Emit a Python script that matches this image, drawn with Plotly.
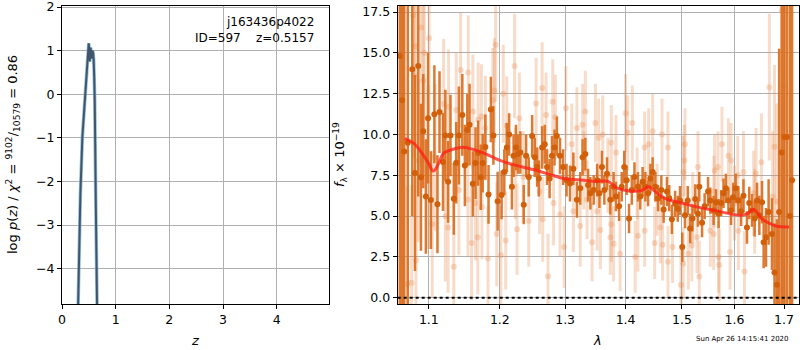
import plotly.graph_objects as go
import numpy as np

# ---------------- left panel: log p(z) ----------------
z_grid = [0.300, 0.310, 0.320, 0.322, 0.343, 0.380, 0.405, 0.455, 0.498, 0.507, 0.517, 0.527, 0.535,
          0.548, 0.558, 0.567, 0.580, 0.590, 0.600, 0.610, 0.629, 0.653]
log_pz = [-4.85, -4.0, -3.40, -3.30, -2.27, -0.97, -0.51, 0.40, 1.17, 1.05, 0.75, 1.0, 1.07,
          0.82, 0.95, 1.00, 0.95, 0.80, 0.40, -0.13, -2.42, -4.85]

# ---------------- right panel: spectrum ----------------
dark_lam = [1.0616, 1.0646, 1.0673, 1.0720, 1.0779, 1.0815, 1.0858, 1.0894, 1.0925, 1.0960,
            1.0990, 1.1028, 1.1075, 1.1117, 1.1145, 1.1193, 1.1225, 1.1263, 1.1296, 1.1342,
            1.1376, 1.1413, 1.1461, 1.1497, 1.1531, 1.1563, 1.1610, 1.1648, 1.1686, 1.1723,
            1.1751, 1.1789, 1.1835, 1.1869, 1.1906, 1.1968,
            1.2026, 1.2066, 1.2103, 1.2138, 1.2179, 1.2204, 1.2240, 1.2271, 1.2306, 1.2357,
            1.2393, 1.2433, 1.2485, 1.2525, 1.2562, 1.2587, 1.2639, 1.2679, 1.2715, 1.2755,
            1.2792, 1.2832, 1.2869, 1.2919, 1.2969, 1.3023, 1.3078, 1.3132, 1.3189, 1.3243,
            1.3281, 1.3326, 1.3371, 1.3409, 1.3463, 1.3520, 1.3558,
            1.3600, 1.3640, 1.3685, 1.3740, 1.3795, 1.3835, 1.3889, 1.3934, 1.3977, 1.4018,
            1.4059, 1.4107, 1.4153, 1.4213, 1.4254, 1.4295, 1.4343, 1.4391, 1.4432, 1.4472,
            1.4520, 1.4568, 1.4627, 1.4668, 1.4728, 1.4769, 1.4817, 1.4876, 1.4924, 1.4965,
            1.5006, 1.5057, 1.5108, 1.5152, 1.5196, 1.5247, 1.5298,
            1.5323, 1.5375, 1.5424, 1.5489, 1.5532, 1.5595, 1.5641, 1.5690, 1.5741, 1.5785,
            1.5831, 1.5880, 1.5932, 1.5975, 1.6022, 1.6075, 1.6130, 1.6176, 1.6245, 1.6291,
            1.6346, 1.6399, 1.6447, 1.6494, 1.6548, 1.6581, 1.6629, 1.6682, 1.6751, 1.6803,
            1.6852, 1.6899, 1.6953, 1.7006, 1.7061, 1.7122, 1.7169]
dark_flux = [14.8, 12.1, 8.96, 9.5, 14.0, 7.64, 14.2, 7.38, 10.2, 6.2,
             11.0, 5.98, 11.24, 5.73, 11.37, 8.31, 9.94, 7.1, 9.94, 6.06,
             8.27, 9.94, 11.2, 8.1, 10.28, 10.6, 6.98, 8.25, 8.86, 7.38,
             8.25, 9.23, 6.33, 11.53, 9.94, 5.91,
             6.3, 7.7, 9.2, 10.0, 6.8, 8.7, 9.2, 8.8, 8.9, 5.7,
             8.7, 7.4, 9.9, 8.6, 8.0, 7.3, 9.2, 9.4, 8.0, 7.3,
             8.7, 9.2, 9.9, 8.7, 8.0, 7.2, 7.0, 7.9, 6.0, 6.7,
             8.6, 8.8, 6.9, 6.4, 6.6, 7.2, 6.4,
             8.0, 6.6, 7.6, 6.0, 6.8, 6.2, 5.6, 6.8, 8.0, 7.2,
             4.85, 6.6, 7.4, 6.8, 6.2, 7.1, 6.8, 6.4, 7.3, 7.7,
             6.8, 6.1, 6.6, 5.4, 6.5, 6.1, 4.8, 5.75, 5.45, 5.95,
             3.1, 5.05, 5.95, 4.24, 4.85, 6.05, 5.15,
             6.8, 4.6, 5.6, 6.5, 5.95, 5.35, 5.85, 5.15, 5.8, 6.4,
             6.7, 5.95, 5.35, 6.15, 6.7, 5.95, 5.3, 6.25, 4.3, 5.8,
             5.35, 4.85, 5.95, 5.05, 5.85, 3.4, 3.7, 5.25, 3.9, 1.55,
             0.8, 5.25, 8.9, 9.85, 9.85, 5.0, 7.2]
dark_err = [25, 25, 25, 20, 9, 6, 8, 4.5, 3.5, 3.5,
            4, 3, 3, 3, 2.5, 3, 2.8, 2.5, 2.5, 2.2,
            2.5, 3, 2.5, 2.5, 2.2, 2.5, 2, 2.2, 2, 2,
            1.8, 2, 1.8, 2, 1.8, 1.8,
            1.5, 1.4, 1.5, 1.3, 1.4, 1.3, 1.4, 1.2, 1.3, 1.2,
            1.3, 1.2, 1.3, 1.2, 1.2, 1.1, 1.3, 1.2, 1.1, 1.2,
            1.2, 1.1, 1.2, 1.1, 1.1, 1.0, 1.1, 1.0, 1.1, 1.0,
            1.1, 1.0, 1.0, 1.0, 0.9, 1.0, 0.9,
            1.0, 0.9, 1.0, 0.9, 0.9, 0.9, 0.9, 0.9, 1.0, 0.9,
            0.9, 0.9, 0.9, 0.9, 0.8, 0.9, 0.9, 0.8, 0.9, 0.9,
            0.9, 0.8, 0.9, 0.8, 0.9, 0.8, 0.9, 0.8, 0.8, 0.9,
            0.9, 0.8, 0.9, 0.9, 0.8, 0.9, 0.8,
            0.9, 0.9, 0.8, 0.9, 0.8, 0.9, 0.8, 0.9, 0.8, 0.9,
            0.9, 0.8, 0.9, 0.9, 0.9, 0.9, 0.9, 1.0, 1.0, 1.0,
            1.0, 1.1, 1.1, 1.2, 1.3, 1.6, 1.8, 2.0, 2.2, 3.0,
            4.0, 10, 12, 15, 15, 14, 12]

light_lam = [1.0650, 1.0712, 1.0771, 1.0792, 1.0805, 1.0824, 1.0828, 1.0858, 1.0894, 1.0925,
             1.0938, 1.0990, 1.1004, 1.1046, 1.1085, 1.1201, 1.1225, 1.1263, 1.1270, 1.1342,
             1.1376, 1.1413, 1.1437, 1.1545, 1.1540, 1.1592, 1.1610, 1.1648, 1.1680, 1.1686,
             1.1732, 1.1740, 1.1789, 1.1827, 1.1897, 1.1920, 1.1939, 1.1954,
             1.2015, 1.2051, 1.2087, 1.2103, 1.2219, 1.2230, 1.2256, 1.2291, 1.2350, 1.2433,
             1.2546, 1.2600, 1.2639, 1.2648, 1.2700, 1.2730, 1.2804, 1.2817, 1.2845, 1.2919,
             1.2985, 1.3012, 1.3106, 1.3132, 1.3189, 1.3243, 1.3281, 1.3300, 1.3326, 1.3354,
             1.3437, 1.3492, 1.3520,
             1.3546, 1.3574, 1.3613, 1.3700, 1.3740, 1.3757, 1.3757, 1.3795, 1.3835, 1.3906,
             1.4000, 1.4036, 1.4117, 1.4165, 1.4200, 1.4213, 1.4330, 1.4330, 1.4401, 1.4472,
             1.4508, 1.4550, 1.4609, 1.4639, 1.4650, 1.4746, 1.4746, 1.4828, 1.4982, 1.5025,
             1.5025, 1.5044, 1.5057, 1.5120, 1.5184, 1.5200, 1.5280, 1.5298,
             1.5323, 1.5532, 1.5595, 1.5600, 1.5614, 1.5679, 1.5690, 1.5703, 1.5755, 1.5880,
             1.5913, 1.5932, 1.6000, 1.6063, 1.6075, 1.6176, 1.6196, 1.6379, 1.6400, 1.6427,
             1.6535, 1.6697, 1.6765, 1.6803, 1.6852, 1.6953, 1.6966, 1.6986, 1.7006]
light_flux = [17.6, 0.83, 0.91, 17.3, 13.6, 15.4, 2.3, 8.4, 16.55, 13.3,
              15.0, 8.0, 15.9, 4.5, 8.6, 11.86, 4.99, 4.3, 11.7, 1.9,
              11.5, 6.6, 13.95, 13.8, 6.0, 3.35, 11.4, 5.8, 3.7, 10.9,
              11.1, 5.55, 10.4, 2.4, 12.1, 12.7, 15.5, 3.9,
              2.6, 12.5, 3.5, 10.55, 14.2, 7.6, 4.2, 11.0, 7.4, 4.7,
              11.9, 6.5, 12.85, 4.8, 11.2, 1.32, 12.0, 5.8, 11.06, 5.1,
              3.1, 11.6, 9.4, 5.3, 10.4, 4.4, 10.6, 7.8, 11.4, 6.0,
              3.4, 10.7, 5.3,
              9.8, 4.15, 10.0, 7.5, 3.7, 9.5, 4.5, 3.3, 8.9, 2.7,
              11.3, 10.1, 10.7, 2.5, 7.0, 3.8, 9.2, 4.1, 9.4, 10.2,
              3.35, 6.0, 4.3, 10.0, 3.25, 9.2, 2.2, 3.1, 0.78, 7.7,
              2.1, 8.4, 9.4, 2.7, 3.2, 5.5, 3.7, 8.0,
              1.3, 4.1, 3.9, 6.5, 7.8, 8.0, 2.5, 2.0, 9.4, 8.7,
              2.8, 8.4, 5.8, 7.5, 4.1, 7.7, 1.6, 6.4, 5.3, 7.6,
              8.3, 12.9, 6.2, 9.25, 5.9, 17.6, 0.5, 12.95, 17.6]
light_err = [20, 6, 6, 8, 5, 6, 5, 5, 6, 5,
             5, 5, 5, 4.5, 4.5, 4, 4, 4, 3.5, 4,
             3.5, 4, 3.5, 3.5, 3.5, 3.5, 3.5, 3.5, 3.5, 3.5,
             3.2, 3.2, 3.2, 3.2, 3.2, 3.2, 3.5, 3.2,
             3.0, 3.0, 3.0, 3.0, 3.2, 2.8, 2.8, 2.8, 2.8, 2.8,
             2.8, 2.6, 2.8, 2.6, 2.6, 2.6, 2.6, 2.6, 2.6, 2.6,
             2.5, 2.6, 2.5, 2.5, 2.5, 2.5, 2.5, 2.4, 2.5, 2.4,
             2.4, 2.4, 2.4,
             2.4, 2.4, 2.4, 2.3, 2.3, 2.3, 2.3, 2.3, 2.3, 2.3,
             2.4, 2.3, 2.3, 2.2, 2.2, 2.2, 2.2, 2.2, 2.2, 2.3,
             2.2, 2.2, 2.2, 2.2, 2.2, 2.2, 2.2, 2.2, 2.2, 2.2,
             2.2, 2.2, 2.2, 2.2, 2.2, 2.2, 2.2, 2.2,
             2.2, 2.2, 2.2, 2.2, 2.2, 2.2, 2.2, 2.2, 2.3, 2.3,
             2.3, 2.3, 2.3, 2.4, 2.4, 2.5, 2.5, 2.6, 2.6, 2.8,
             3.0, 4.5, 4.0, 5.0, 6.0, 20, 8, 8, 20]

model_lam = [1.068, 1.080, 1.090, 1.100, 1.1058, 1.112, 1.120, 1.130, 1.147, 1.160,
             1.180, 1.200, 1.220, 1.250, 1.280, 1.300, 1.330, 1.350, 1.370, 1.385,
             1.400, 1.413, 1.430, 1.440, 1.4485, 1.470, 1.500, 1.530, 1.560, 1.600,
             1.612, 1.625, 1.638, 1.654, 1.670, 1.685, 1.711]
model_flux = [9.74, 9.45, 8.9, 8.2, 7.76, 8.1, 8.85, 9.05, 9.22, 9.1,
              8.8, 8.41, 8.15, 7.85, 7.5, 7.29, 7.2, 7.13, 7.13, 6.72,
              6.58, 6.52, 6.6, 6.82, 6.6, 6.07, 5.8, 5.55, 5.35, 5.09,
              5.05, 5.15, 5.4, 4.85, 4.55, 4.38, 4.33]

left_xticks = [0, 1, 2, 3, 4]
left_yticks = [-4, -3, -2, -1, 0, 1, 2]
right_xticks = [1.1, 1.2, 1.3, 1.4, 1.5, 1.6, 1.7]
right_yticks = [0.0, 2.5, 5.0, 7.5, 10.0, 12.5, 15.0, 17.5]

FONT = "DejaVu Sans"
GRID = "#b0b0b0"

fig = go.Figure()

# left panel curves
fig.add_trace(go.Scatter(x=z_grid, y=log_pz, mode="lines", xaxis="x", yaxis="y",
                         line=dict(color="rgba(120,175,215,0.8)", width=3.5), showlegend=False))
fig.add_trace(go.Scatter(x=z_grid, y=log_pz, mode="lines", xaxis="x", yaxis="y",
                         line=dict(color="rgba(45,60,75,0.8)", width=2.0), showlegend=False))

# right panel spectrum
fig.add_trace(go.Scatter(x=light_lam, y=light_flux, mode="markers", xaxis="x2", yaxis="y2",
                         marker=dict(color="rgba(232,140,80,0.30)", size=6),
                         error_y=dict(type="data", array=light_err, visible=True, width=0,
                                      thickness=3, color="rgba(232,140,80,0.30)"),
                         showlegend=False))
fig.add_trace(go.Scatter(x=dark_lam, y=dark_flux, mode="markers", xaxis="x2", yaxis="y2",
                         marker=dict(color="#d2600a", size=6),
                         error_y=dict(type="data", array=dark_err, visible=True, width=0,
                                      thickness=2.5, color="rgba(218,110,30,0.92)"),
                         showlegend=False))
fig.add_trace(go.Scatter(x=model_lam, y=model_flux, mode="lines", xaxis="x2", yaxis="y2",
                         line=dict(color="rgba(255,30,20,0.75)", width=3, shape="spline"),
                         showlegend=False))
fig.add_hline(y=0, line=dict(color="black", width=2, dash="dot"), xref="x2", yref="y2")

ax_common = dict(showgrid=True, gridcolor=GRID, gridwidth=1, zeroline=False,
                 showline=True, linecolor="black", linewidth=1, mirror=True,
                 ticks="outside", ticklen=4, tickcolor="black", automargin=False,
                 ticklabeloverflow="allow",
                 tickfont=dict(family=FONT, size=12.5, color="black"))

fig.update_layout(
    width=800, height=350,
    margin=dict(l=0, r=0, t=0, b=0, pad=0, autoexpand=False),
    paper_bgcolor="white", plot_bgcolor="white",
    font=dict(family=FONT, color="black"),
    showlegend=False,
    xaxis=dict(domain=[0.0775, 0.4116], range=[0, 4.98], tickvals=left_xticks,
               ticktext=[str(v) for v in left_xticks], anchor="y", **ax_common),
    yaxis=dict(domain=[0.1314, 0.9829], range=[-4.81, 2.025], tickvals=left_yticks,
               anchor="x", **ax_common),
    xaxis2=dict(domain=[0.4971, 0.9988], type="log",
                range=[np.log10(1.0588), np.log10(1.7316)], tickvals=right_xticks,
                ticktext=["%.1f" % v for v in right_xticks], anchor="y2", **ax_common),
    yaxis2=dict(domain=[0.1314, 0.9829], range=[-0.385, 17.87], tickvals=right_yticks,
                ticktext=["%.1f" % v for v in right_yticks], anchor="x2", **ax_common),
)

ann = [
    dict(text="j163436p4022", x=316, y=22),
    dict(text="ID=597    z=0.5157", x=316, y=38),
]
for a in ann:
    fig.add_annotation(text=a["text"], x=a["x"] / 800, y=1 - a["y"] / 350, xref="paper", yref="paper",
                       xanchor="right", yanchor="middle", showarrow=False,
                       font=dict(family=FONT, size=12, color="black"))

fig.add_annotation(text="log <i>p</i>(<i>z</i>) / <i>χ</i><sup>2</sup> = <sup>9102</sup>/<sub>10579</sub> = 0.86",
                   x=13 / 800, y=1 - 155 / 350, xref="paper", yref="paper", textangle=-90,
                   showarrow=False, xanchor="center", yanchor="middle",
                   font=dict(family=FONT, size=13, color="black"))
fig.add_annotation(text="<i>f</i><sub>λ</sub> × 10<sup>−19</sup>",
                   x=340 / 800, y=1 - 155 / 350, xref="paper", yref="paper", textangle=-90,
                   showarrow=False, xanchor="center", yanchor="middle",
                   font=dict(family=FONT, size=13, color="black"))
fig.add_annotation(text="<i>z</i>", x=195 / 800, y=1 - 340 / 350, xref="paper", yref="paper",
                   showarrow=False, xanchor="center", yanchor="middle",
                   font=dict(family=FONT, size=13, color="black"))
fig.add_annotation(text="<i>λ</i>", x=597 / 800, y=1 - 340 / 350, xref="paper", yref="paper",
                   showarrow=False, xanchor="center", yanchor="middle",
                   font=dict(family=FONT, size=13, color="black"))
fig.add_annotation(text="Sun Apr 26 14:15:41 2020", x=742 / 800, y=1 - 339 / 350,
                   xref="paper", yref="paper", showarrow=False, xanchor="center", yanchor="middle",
                   font=dict(family=FONT, size=7, color="black"))

fig.write_html("out.html", config={"displayModeBar": False},
               post_script="document.body.style.margin='0';document.body.style.overflow='hidden';")
